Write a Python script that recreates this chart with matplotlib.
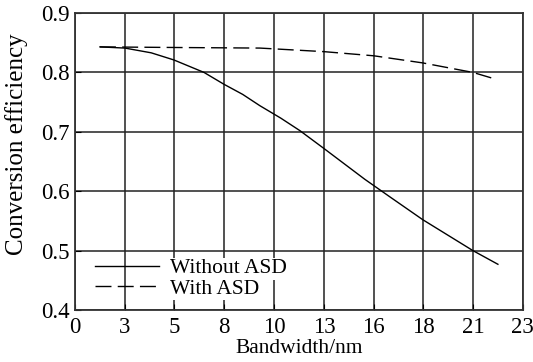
import matplotlib
matplotlib.use('Agg')
import matplotlib.pyplot as plt

plt.rcParams['font.family'] = 'Liberation Serif'

# values (x in nm, y efficiency)
bw_without = [1.31, 2.62, 4.0, 5.19, 6.77, 7.82, 8.8, 9.70, 10.8, 11.8, 13.06, 15.21, 16.5, 18.25, 20.88, 22.19]
eff_without = [0.843, 0.841, 0.833, 0.821, 0.800, 0.780, 0.763, 0.744, 0.723, 0.702, 0.672, 0.620, 0.591, 0.552, 0.500, 0.477]

bw_with = [1.31, 5.19, 9.70, 13.06, 15.68, 18.25, 20.88, 22.14]
eff_with = [0.843, 0.842, 0.841, 0.835, 0.828, 0.816, 0.800, 0.788]

xtick_pos = [0, 2.61, 5.22, 7.83, 10.44, 13.06, 15.67, 18.28, 20.89, 23.5]
xtick_labels = ['0', '3', '5', '8', '10', '13', '16', '18', '21', '23']
ytick_pos = [0.4, 0.5, 0.6, 0.7, 0.8, 0.9]

fig = plt.figure(figsize=(5.33, 3.62), dpi=100)
ax = fig.add_axes([0.1407, 0.1436, 0.8403, 0.8204])

ax.plot(bw_without, eff_without, 'k-', lw=1.0, label='Without ASD')
ax.plot(bw_with, eff_with, color='k', lw=1.0, dashes=(11.5, 4.5), label='With ASD')

ax.set_xlim(0, 23.5)
ax.set_ylim(0.4, 0.9)
ax.set_xticks(xtick_pos)
ax.set_xticklabels(xtick_labels)
ax.set_yticks(ytick_pos)
ax.set_yticklabels(['0.4', '0.5', '0.6', '0.7', '0.8', '0.9'])
ax.grid(True, color='#222222', lw=1.1)
ax.set_axisbelow(True)
ax.tick_params(direction='in', length=4, labelsize=16.5, color='k')
ax.tick_params(axis='x', pad=5)
ax.tick_params(axis='y', pad=4)
for s in ax.spines.values():
    s.set_color('#333333')
    s.set_linewidth(1.3)

ax.set_xlabel('Bandwidth/nm', fontsize=15.5, labelpad=1)
ax.set_ylabel('Conversion efficiency', fontsize=18)
ax.yaxis.set_label_coords(-0.105, 0.56)

leg = ax.legend(loc='lower left', frameon=False, fontsize=15.5, handlelength=3.0,
                handletextpad=0.5, labelspacing=0.02, borderaxespad=0.3,
                bbox_to_anchor=(0.01, -0.013))
for t in leg.get_texts():
    t.set_bbox(dict(facecolor='white', edgecolor='none', pad=1))

fig.savefig('out.png', dpi=100)
